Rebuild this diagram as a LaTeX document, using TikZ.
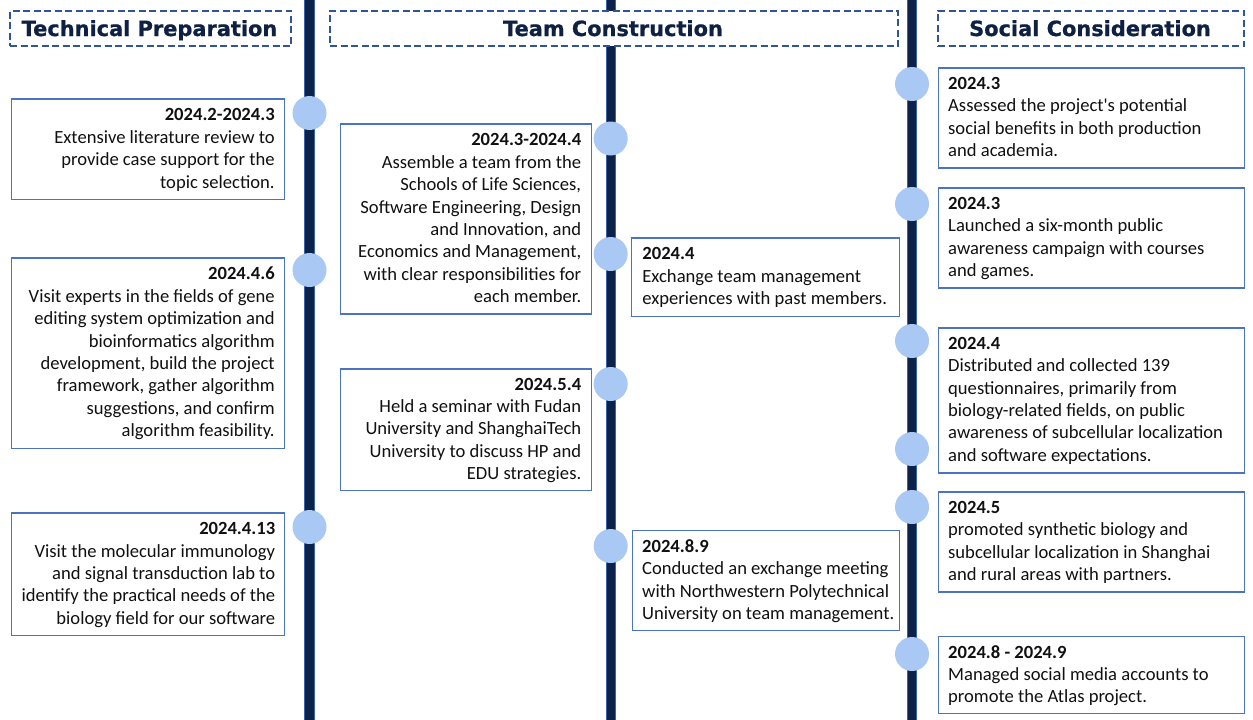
\documentclass[tikz,border=0pt]{standalone}
\usepackage{fontspec}
\setmainfont{Carlito}
\newfontfamily\headfont{DejaVu Sans Bold}[FakeBold=0.8]
\definecolor{spinefill}{HTML}{0D2248}
\definecolor{spineedge}{HTML}{3B62A8}
\definecolor{dotfill}{HTML}{A9C8F4}
\definecolor{cardline}{HTML}{4A74C2}
\definecolor{headline}{HTML}{2F5597}
\definecolor{headtext}{HTML}{0E2143}
\definecolor{bodytext}{HTML}{111111}
\newcommand\bodysize{\fontsize{18.6}{22.4}\selectfont}
\tikzset{
  spineouter/.style={line width=10.4pt, draw=spineedge},
  spineinner/.style={line width=8.4pt, draw=spinefill},
  headbox/.style={draw=headline, fill=white, line width=2.3pt, dash pattern=on 7pt off 3.5pt,
    anchor=north west, inner sep=0},
  headlabel/.style={anchor=base, inner sep=0, text=headtext,
    font=\headfont\fontsize{20.9}{24}\selectfont},
  dot/.style={circle, fill=dotfill, minimum size=34pt, inner sep=0},
  card/.style={draw=cardline, fill=white, line width=1.2pt, anchor=north west, inner sep=0},
  righttext/.style={anchor=base east, inner sep=0, text=bodytext, font=\bodysize},
  lefttext/.style={anchor=base west, inner sep=0, text=bodytext, font=\bodysize},
}
\begin{document}
\begin{tikzpicture}[x=1pt,y=-1pt]
\useasboundingbox (0,0) rectangle (1253,720);

% timeline spines
\coordinate (s1top) at (309.5,0);   \coordinate (s1bot) at (309.5,720);
\coordinate (s2top) at (610.7,0);   \coordinate (s2bot) at (610.7,720);
\coordinate (s3top) at (912,0);     \coordinate (s3bot) at (912,720);
\foreach \s in {s1,s2,s3}{
  \draw[spineouter] (\s top) -- (\s bot);
  \draw[spineinner] (\s top) -- (\s bot);
}

% column headings
\node[headbox, minimum width=281pt, minimum height=35.5pt] (h1) at (9,9.5) {};
\node[headlabel] (h1t) at (149.5,36) {Technical Preparation};
\node[headbox, minimum width=568pt, minimum height=35.5pt] (h2) at (329,9.5) {};
\node[headlabel] (h2t) at (613,36) {Team Construction};
\node[headbox, minimum width=306pt, minimum height=35.5pt] (h3) at (937,9.5) {};
\node[headlabel] (h3t) at (1090,36) {Social Consideration};

% milestone dots
\node[dot] (p1) at (309.5,113) {};
\node[dot] (p2) at (309.5,270) {};
\node[dot] (p3) at (309.5,527) {};
\node[dot] (q1) at (610.7,138.5) {};
\node[dot] (q2) at (610.7,254) {};
\node[dot] (q3) at (610.7,384) {};
\node[dot] (q4) at (610.7,546) {};
\node[dot] (r1) at (912,84) {};
\node[dot] (r2) at (912,204) {};
\node[dot] (r3) at (912,341) {};
\node[dot] (r4) at (912,449) {};
\node[dot] (r5) at (912,507) {};
\node[dot] (r6) at (912,654) {};

% Technical Preparation
\node[card, minimum width=273pt, minimum height=100.5pt] (a1) at (10.7,98.3) {};
\node[righttext] (a1t) at ([xshift=-10pt,yshift=-22.6pt]a1.north east)
  {\parbox[t]{300pt}{\raggedleft\textbf{2024.2-2024.3}\\Extensive literature review to\\provide case support for the\\topic selection.}};
\node[card, minimum width=273pt, minimum height=190.5pt] (a2) at (10.7,257.3) {};
\node[righttext] (a2t) at ([xshift=-10pt,yshift=-22.6pt]a2.north east)
  {\parbox[t]{300pt}{\raggedleft\textbf{2024.4.6}\\Visit experts in the fields of gene\\editing system optimization and\\bioinformatics algorithm\\development, build the project\\framework, gather algorithm\\suggestions, and confirm\\algorithm feasibility.}};
\node[card, minimum width=273.5pt, minimum height=122.5pt] (a3) at (10.7,512.3) {};
\node[righttext] (a3t) at ([xshift=-10pt,yshift=-22.3pt]a3.north east)
  {\parbox[t]{300pt}{\raggedleft\textbf{2024.4.13}\\Visit the molecular immunology\\and signal transduction lab to\\identify the practical needs of the\\biology field for our software}};

% Team Construction
\node[card, minimum width=250.5pt, minimum height=190pt] (b1) at (340.2,123.3) {};
\node[righttext] (b1t) at ([xshift=-10.5pt,yshift=-22.5pt]b1.north east)
  {\parbox[t]{300pt}{\raggedleft\textbf{2024.3-2024.4}\\Assemble a team from the\\Schools of Life Sciences,\\Software Engineering, Design\\and Innovation, and\\Economics and Management,\\with clear responsibilities for\\each member.}};
\node[card, minimum width=268pt, minimum height=78.5pt] (b2) at (631.2,237.3) {};
\node[lefttext] (b2t) at ([xshift=11pt,yshift=-22.6pt]b2.north west)
  {\parbox[t]{300pt}{\raggedright\textbf{2024.4}\\Exchange team management\\experiences with past members.}};
\node[card, minimum width=250.5pt, minimum height=121.7pt] (b3) at (340.2,368.3) {};
\node[righttext] (b3t) at ([xshift=-10.5pt,yshift=-21.8pt]b3.north east)
  {\parbox[t]{300pt}{\raggedleft\textbf{2024.5.4}\\Held a seminar with Fudan\\University and ShanghaiTech\\University to discuss HP and\\EDU strategies.}};
\node[card, minimum width=267.5pt, minimum height=100pt] (b4) at (631.5,530) {};
\node[lefttext] (b4t) at ([xshift=10.5pt,yshift=-22.3pt]b4.north west)
  {\parbox[t]{300pt}{\raggedright\textbf{2024.8.9}\\Conducted an exchange meeting\\with Northwestern Polytechnical\\University on team management.}};

% Social Consideration
\node[card, minimum width=306pt, minimum height=100pt] (c1) at (937.5,67.3) {};
\node[lefttext] (c1t) at ([xshift=10.5pt,yshift=-22pt]c1.north west)
  {\parbox[t]{300pt}{\raggedright\textbf{2024.3}\\Assessed the project\textquotesingle s potential\\social benefits in both production\\and academia.}};
\node[card, minimum width=306pt, minimum height=100pt] (c2) at (937.5,187.3) {};
\node[lefttext] (c2t) at ([xshift=10.5pt,yshift=-22pt]c2.north west)
  {\parbox[t]{300pt}{\raggedright\textbf{2024.3}\\Launched a six-month public\\awareness campaign with courses\\and games.}};
\node[card, minimum width=306pt, minimum height=145pt] (c3) at (937.5,327.3) {};
\node[lefttext] (c3t) at ([xshift=10.5pt,yshift=-22pt]c3.north west)
  {\parbox[t]{300pt}{\raggedright\textbf{2024.4}\\Distributed and collected 139\\questionnaires, primarily from\\biology-related fields, on public\\awareness of subcellular localization\\and software expectations.}};
\node[card, minimum width=306pt, minimum height=100pt] (c4) at (937.5,491.3) {};
\node[lefttext] (c4t) at ([xshift=10.5pt,yshift=-22pt]c4.north west)
  {\parbox[t]{300pt}{\raggedright\textbf{2024.5}\\promoted synthetic biology and\\subcellular localization in Shanghai\\and rural areas with partners.}};
\node[card, minimum width=306pt, minimum height=77.5pt] (c5) at (937.5,635.5) {};
\node[lefttext] (c5t) at ([xshift=10.5pt,yshift=-22.5pt]c5.north west)
  {\parbox[t]{300pt}{\raggedright\textbf{2024.8 - 2024.9}\\Managed social media accounts to\\promote the Atlas project.}};
\end{tikzpicture}
\end{document}
